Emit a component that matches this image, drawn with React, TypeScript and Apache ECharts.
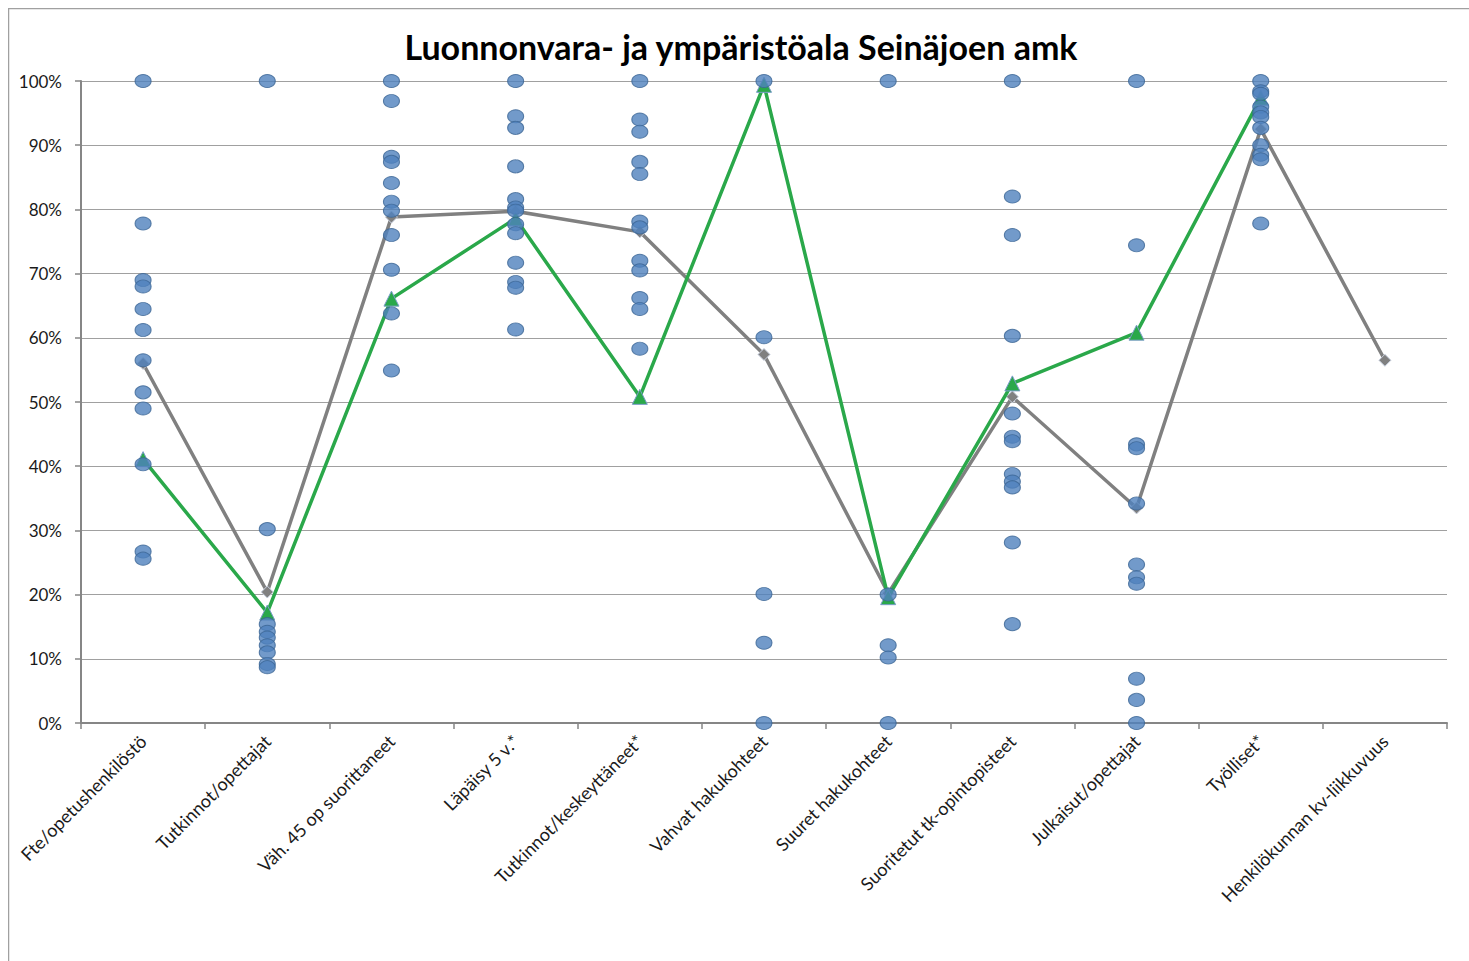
import React, { useEffect, useRef } from "react";
import * as echarts from "echarts";

const categories = [
  "Fte/opetushenkilöstö",
  "Tutkinnot/opettajat",
  "Väh. 45 op suorittaneet",
  "Läpäisy 5 v.*",
  "Tutkinnot/keskeyttäneet*",
  "Vahvat hakukohteet",
  "Suuret hakukohteet",
  "Suoritetut tk-opintopisteet",
  "Julkaisut/opettajat",
  "Työlliset*",
  "Henkilökunnan kv-liikkuvuus",
];

const title = "Luonnonvara- ja ympäristöala Seinäjoen amk";

// Individual institutions (scatter dots), per category, in %
const fteValues = [100, 77.8, 69.0, 68.0, 64.5, 61.2, 56.5, 51.5, 49.0, 40.3, 26.7, 25.6];
const tutkOpeValues = [100, 30.2, 15.4, 14.2, 13.3, 12.1, 11.0, 9.2, 8.7];
const vah45Values = [100, 96.9, 88.2, 87.4, 84.1, 81.2, 79.8, 76.0, 70.6, 63.8, 54.9];
const lapaisyValues = [100, 94.5, 92.7, 86.7, 81.6, 80.3, 79.8, 77.7, 76.3, 71.7, 68.7, 67.8, 61.3];
const tutkKeskValues = [100, 94.0, 92.1, 87.4, 85.5, 78.1, 77.2, 72.0, 70.5, 66.2, 64.5, 58.3];
const vahvatValues = [100, 60.1, 20.1, 12.5, 0];
const suuretValues = [100, 20.0, 12.1, 10.2, 0];
const tkValues = [100, 82.0, 76.0, 60.3, 48.2, 44.6, 43.9, 38.8, 37.6, 36.7, 28.1, 15.4];
const julkaisutValues = [100, 74.4, 43.4, 42.8, 34.2, 24.7, 22.7, 21.7, 6.9, 3.6, 0];
const tyollisetValues = [100, 98.4, 98.0, 96.0, 95.1, 94.4, 92.7, 90.0, 88.5, 87.8, 77.8];
const kvValues: number[] = [];

const columnValues = [
  fteValues,
  tutkOpeValues,
  vah45Values,
  lapaisyValues,
  tutkKeskValues,
  vahvatValues,
  suuretValues,
  tkValues,
  julkaisutValues,
  tyollisetValues,
  kvValues,
];

// Average (grey) and Seinäjoen amk (green) lines
const averageValues = [56.0, 20.4, 78.8, 79.7, 76.5, 57.4, 20.2, 50.8, 33.5, 92.5, 56.5];
const seinajokiValues = [41.1, 17.2, 66.1, 78.6, 50.8, 99.4, 19.6, 52.9, 60.8, 97.4, null];

const yTicks = [0, 10, 20, 30, 40, 50, 60, 70, 80, 90, 100];

const FONT = "Lato, 'Open Sans', sans-serif";

export default function App() {
  const ref = useRef<HTMLDivElement>(null);

  useEffect(() => {
    if (!ref.current) return;
    const chart = echarts.init(ref.current, undefined, { renderer: "svg" });

    const scatterData: [number, number][] = [];
    columnValues.forEach((vals, i) => {
      vals.forEach((v) => scatterData.push([i, v]));
    });

    chart.setOption({
      animation: false,
      backgroundColor: "#ffffff",
      textStyle: { fontFamily: FONT },
      graphic: [
        {
          type: "rect",
          shape: { x: 0.5, y: 0.5, width: 1600, height: 1100 },
          style: { fill: "none", stroke: "#a0a0a0", lineWidth: 1.5 },
          silent: true,
          z: 0,
        },
        {
          type: "text",
          x: 733,
          y: 38,
          style: {
            text: title,
            fontFamily: FONT,
            fontWeight: "bold",
            fontSize: 34,
            fill: "#000000",
            textAlign: "center",
            textVerticalAlign: "middle",
          },
          z: 10,
        },
      ],
      grid: { left: 73, right: 22, top: 73, bottom: 238, containLabel: false },
      xAxis: {
        type: "category",
        data: categories,
        boundaryGap: true,
        axisLine: { show: true, lineStyle: { color: "#868686", width: 2 } },
        axisTick: { show: true, alignWithLabel: false, length: 6, lineStyle: { color: "#868686", width: 1.5 } },
        axisLabel: {
          rotate: 45,
          interval: 0,
          margin: 15,
          fontSize: 18,
          color: "#1a1a1a",
          fontFamily: FONT,
        },
        splitLine: { show: false },
      },
      yAxis: {
        type: "value",
        min: 0,
        max: 100,
        interval: 10,
        axisLine: { show: true, lineStyle: { color: "#868686", width: 2 } },
        axisTick: { show: true, length: 6, lineStyle: { color: "#868686", width: 1.5 } },
        axisLabel: {
          margin: 19,
          fontSize: 17,
          color: "#1a1a1a",
          fontFamily: FONT,
          formatter: (v: number) => (yTicks.includes(v) ? v + "%" : ""),
        },
        splitLine: { show: true, lineStyle: { color: "#a0a0a0", width: 1.2 } },
      },
      series: [
        {
          name: "Keskiarvo",
          type: "line",
          data: averageValues,
          symbol: "diamond",
          symbolSize: 12,
          lineStyle: { color: "#808080", width: 3.5 },
          itemStyle: { color: "#808080", borderColor: "#c8d0e0", borderWidth: 1 },
          z: 3,
        },
        {
          name: "Seinäjoen amk",
          type: "line",
          data: seinajokiValues,
          connectNulls: false,
          symbol: "triangle",
          symbolSize: 15,
          lineStyle: { color: "#2aa84a", width: 3.5 },
          itemStyle: { color: "#2aa84a", borderColor: "#7a9cc8", borderWidth: 1 },
          z: 4,
        },
        {
          name: "Ammattikorkeakoulut",
          type: "scatter",
          data: scatterData,
          symbol: "circle",
          symbolSize: [16, 13],
          itemStyle: { color: "#4f81bd", borderColor: "#3b6595", borderWidth: 1 },
          z: 5,
        },
      ],
    });

    return () => chart.dispose();
  }, []);

  return (
    <div
      ref={ref}
      style={{ position: "fixed", left: 8, top: 8, width: 1461, height: 953 }}
    />
  );
}
